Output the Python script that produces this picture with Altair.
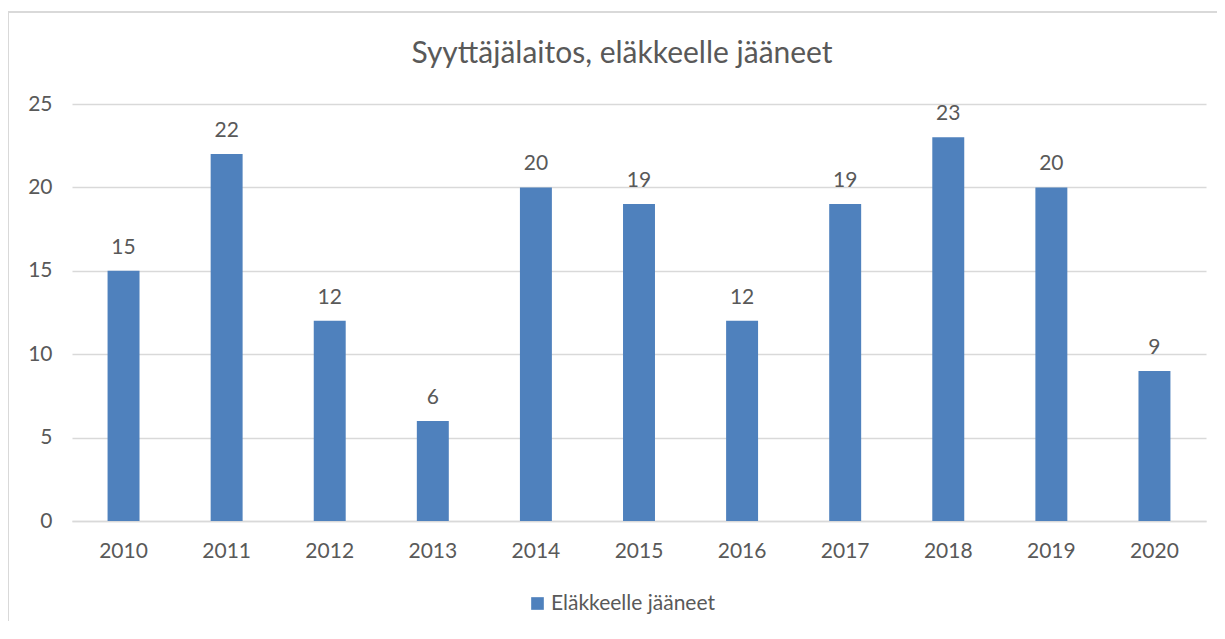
import altair as alt
import pandas as pd

years = ["2010", "2011", "2012", "2013", "2014", "2015", "2016", "2017", "2018", "2019", "2020"]
values = [15, 22, 12, 6, 20, 19, 12, 19, 23, 20, 9]
series_name = "Eläkkeelle jääneet"
title_text = "Syyttäjälaitos, eläkkeelle jääneet"

df = pd.DataFrame({"year": years, "value": values, "series": [series_name] * len(years)})
title_df = pd.DataFrame({"t": [title_text]})

FONT = "Lato"
GREY = "#595959"
GRID = "#d9d9d9"
FS = 21

yscale = alt.Scale(domain=[0, 25], nice=False, zero=True)

x_enc = alt.X("year:N", sort=years,
              scale=alt.Scale(paddingInner=0.69, paddingOuter=0.345),
              axis=alt.Axis(title=None, labelAngle=0, ticks=False, domainColor=GRID,
                            domainWidth=1.5, labelPadding=19, labelFontSize=FS,
                            labelColor=GREY, labelFont=FONT, grid=False))
y_enc = alt.Y("value:Q", scale=yscale,
              axis=alt.Axis(title=None, values=[0, 5, 10, 15, 20, 25], domain=False, ticks=False,
                            gridColor=GRID, gridWidth=1.5, labelPadding=20, labelFontSize=FS,
                            labelColor=GREY, labelFont=FONT))

bars = alt.Chart(df).mark_bar(color="#4f81bd").encode(
    x=x_enc, y=y_enc,
    color=alt.Color("series:N", scale=alt.Scale(range=["#4f81bd"]),
                    legend=alt.Legend(title=None, orient="none", legendX=455, legendY=489,
                                      symbolType="square", symbolSize=160,
                                      symbolStrokeWidth=0, labelFontSize=FS, labelLimit=500,
                                      labelColor=GREY, labelFont=FONT, labelOffset=3))
)

labels = alt.Chart(df).mark_text(baseline="bottom", dy=-13, fontSize=FS, color=GREY, font=FONT).encode(
    x=alt.X("year:N", sort=years), y=alt.Y("value:Q", scale=yscale), text="value:Q"
)

title_mark = alt.Chart(title_df).mark_text(fontSize=30, color=GREY, font=FONT, align="center",
                                           baseline="middle").encode(
    x=alt.value(550), y=alt.value(-50), text="t:N"
)

border_top = alt.Chart(df).mark_rule(color=GRID, strokeWidth=2).encode(
    x=alt.value(-64), x2=alt.value(1160), y=alt.value(-92)
)
border_left = alt.Chart(df).mark_rule(color=GRID, strokeWidth=2).encode(
    x=alt.value(-64), y=alt.value(-92), y2=alt.value(540)
)

chart = alt.layer(border_top, border_left, title_mark, bars, labels).properties(
    width=1134, height=417,
    autosize=alt.AutoSizeParams(type="none"),
    padding={"left": 64, "top": 96, "right": 11, "bottom": 100},
).configure_view(stroke=None)

chart.save("out.html", embed_options={"renderer": "svg", "actions": False})
